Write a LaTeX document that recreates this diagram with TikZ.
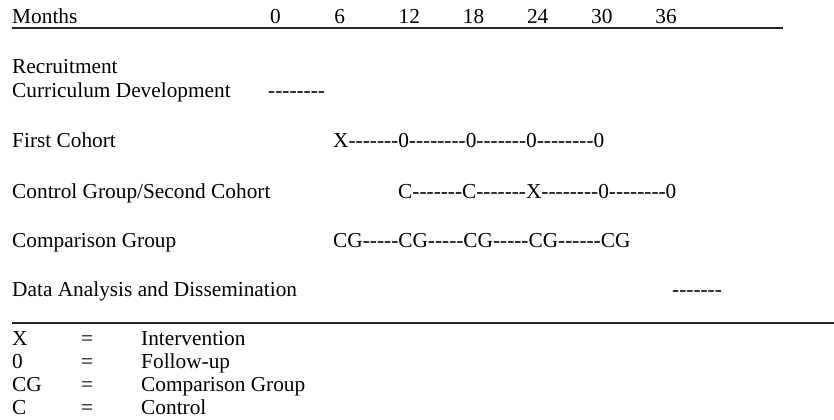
\documentclass[tikz,border=0pt]{standalone}
\usepackage{fontspec}
\setmainfont{Liberation Serif}

% a run of plain hyphens (no en-dash ligature)
\newcommand{\dashrun}[1]{\foreach \k in {1,...,#1}{-\kern0pt}}

\begin{document}
\begin{tikzpicture}[
  x=0.3mm, y=-0.3mm,
  font=\fontsize{18.2}{22}\selectfont,
  lbl/.style={anchor=base west, inner sep=0pt},
  rule/.style={draw=black!85, line width=1.4pt}
]
\useasboundingbox (0,0) rectangle (834,420);
% header
\node[lbl] (months) at (12,24) {Months};
\foreach \m [count=\i from 0] in {0,6,12,18,24,30,36}
  \node[lbl] (m\m) at (270+64.2*\i,24) {\m};
\draw[rule] (12,28) -- (783,28);
% activities
\node[lbl] (recruit) at (12,74) {Recruitment};
\node[lbl] (curric) at (12,98) {Curriculum Development};
\node[lbl] (curricbar) at (268,98) {\dashrun{8}};
\node[lbl] (first) at (12,148) {First Cohort};
\node[lbl] (firstbar) at (333,148) {X\dashrun{7}0\dashrun{8}0\dashrun{7}0\dashrun{8}0};
\node[lbl] (second) at (12,198) {Control Group/Second Cohort};
\node[lbl] (secondbar) at (398,198) {C\dashrun{7}C\dashrun{7}X\dashrun{8}0\dashrun{8}0};
\node[lbl] (compar) at (12,247) {Comparison Group};
\node[lbl] (comparbar) at (333,247) {CG\dashrun{5}CG\dashrun{5}CG\dashrun{5}CG\dashrun{6}CG};
\node[lbl] (data) at (12,296) {Data Analysis and Dissemination};
\node[lbl] (databar) at (672,296) {\dashrun{7}};
\draw[rule] (12,323) -- (834,323);
% key
\foreach \sym/\txt [count=\i from 0] in {X/Intervention,0/Follow-up,CG/Comparison Group,C/Control} {
  \node[lbl] (key\i) at (12,345+23.3*\i) {\sym};
  \node[lbl] (eq\i) at (81,345+23.3*\i) {=};
  \node[lbl] (desc\i) at (141,345+23.3*\i) {\txt};
}
\end{tikzpicture}
\end{document}
